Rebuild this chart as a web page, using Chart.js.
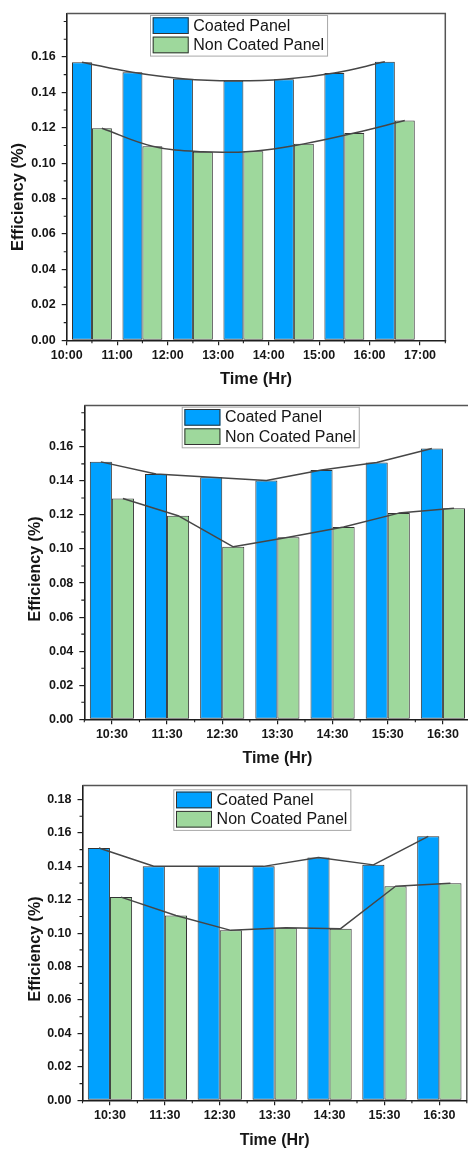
<!DOCTYPE html>
<html>
<head>
<meta charset="utf-8">
<script src="https://cdn.jsdelivr.net/npm/chart.js@4.4.1/dist/chart.umd.min.js"></script>
<style>
  html, body { margin: 0; padding: 0; background: #fff; overflow: hidden; width: 468px; height: 1149px; }
  .panel { position: absolute; left: 0; width: 472px; }
  canvas { display: block; }
</style>
</head>
<body>
<div class="panel" style="top:0px"><canvas id="c1" width="472" height="392"></canvas></div>
<div class="panel" style="top:392px"><canvas id="c2" width="472" height="380"></canvas></div>
<div class="panel" style="top:772px"><canvas id="c3" width="472" height="377"></canvas></div>
<script>
// Series names
const SERIES = ['Coated Panel', 'Non Coated Panel'];

// Panel A
const timesA = ['10:30', '11:30', '12:30', '13:30', '14:30', '15:30', '16:30'];
const coatedA = [0.1570, 0.1513, 0.1477, 0.1465, 0.1474, 0.1509, 0.1572];
const nonCoatedA = [0.1197, 0.1096, 0.1064, 0.1068, 0.1109, 0.1170, 0.1241];
const xTicksA = ['10:00', '11:00', '12:00', '13:00', '14:00', '15:00', '16:00', '17:00'];
const xRangeA = ['10:00', '17:30'];
const yTicksA = [0, 0.02, 0.04, 0.06, 0.08, 0.10, 0.12, 0.14, 0.16];
const yRangeA = [0, 0.1845];

// Panel B
const timesB = ['10:30', '11:30', '12:30', '13:30', '14:30', '15:30', '16:30'];
const coatedB = [0.1512, 0.1441, 0.1421, 0.1402, 0.1464, 0.1508, 0.1590];
const nonCoatedB = [0.1297, 0.1196, 0.1013, 0.1069, 0.1129, 0.1211, 0.1240];
const xTicksB = ['10:30', '11:30', '12:30', '13:30', '14:30', '15:30', '16:30'];
const xRangeB = ['10:00', '17:00'];
const yTicksB = [0, 0.02, 0.04, 0.06, 0.08, 0.10, 0.12, 0.14, 0.16];
const yRangeB = [0, 0.1843];

// Panel C
const timesC = ['10:30', '11:30', '12:30', '13:30', '14:30', '15:30', '16:30'];
const coatedC = [0.1510, 0.1401, 0.1401, 0.1400, 0.1453, 0.1409, 0.1580];
const nonCoatedC = [0.1216, 0.1106, 0.1017, 0.1033, 0.1027, 0.1281, 0.1299];
const xTicksC = ['10:30', '11:30', '12:30', '13:30', '14:30', '15:30', '16:30'];
const xRangeC = ['10:00', '17:00'];
const yTicksC = [0, 0.02, 0.04, 0.06, 0.08, 0.10, 0.12, 0.14, 0.16, 0.18];
const yRangeC = [0, 0.1884];

const FONT = "'Liberation Sans', Arial, Helvetica, sans-serif";
const BLUE = 'rgb(0,161,255)';
const GREEN = 'rgb(158,216,156)';
const EDGE = '#333333';
const AXIS = '#1e1e1e';
const FRAME = '#555555';
const TREND = '#464646';
const TEXT = '#161616';

const toHours = s => { const [h, m] = s.split(':').map(Number); return h + m / 60; };

// Control points for a smooth curve through the bar tops
function ctrl(pts, k, t) {
  const p0 = pts[k - 1] || pts[k], p1 = pts[k], p2 = pts[k + 1] || pts[k];
  const d01 = Math.hypot(p1.x - p0.x, p1.y - p0.y);
  const d12 = Math.hypot(p2.x - p1.x, p2.y - p1.y);
  const sum = d01 + d12 || 1;
  const fa = t * d01 / sum, fb = t * d12 / sum;
  return {
    prev: { x: p1.x - fa * (p2.x - p0.x), y: p1.y - fa * (p2.y - p0.y) },
    next: { x: p1.x + fb * (p2.x - p0.x), y: p1.y + fb * (p2.y - p0.y) }
  };
}

// Half-step positions between the labelled ticks
function minorValues(scale, majors) {
  const step = (majors[1] - majors[0]) / 2;
  const out = [];
  for (let v = scale.min; v <= scale.max + 1e-9; v += step) {
    if (!majors.some(m => Math.abs(m - v) < 1e-9)) out.push(v);
  }
  return out;
}

const panelDecor = {
  id: 'panelDecor',
  afterDatasetsDraw(chart, args, o) {
    const ctx = chart.ctx;
    ctx.save();
    ctx.strokeStyle = TREND;
    ctx.lineWidth = 1.5;
    ctx.lineJoin = 'round';
    chart.data.datasets.forEach((ds, i) => {
      const pts = chart.getDatasetMeta(i).data.map(b => ({ x: b.x, y: b.y }));
      ctx.beginPath();
      ctx.moveTo(pts[0].x, pts[0].y);
      for (let k = 1; k < pts.length; k++) {
        if (o.tension) {
          const c1 = ctrl(pts, k - 1, o.tension).next;
          const c2 = ctrl(pts, k, o.tension).prev;
          ctx.bezierCurveTo(c1.x, c1.y, c2.x, c2.y, pts[k].x, pts[k].y);
        } else {
          ctx.lineTo(pts[k].x, pts[k].y);
        }
      }
      ctx.stroke();
    });
    ctx.restore();
  },
  afterDraw(chart, args, o) {
    const ctx = chart.ctx;
    const ca = chart.chartArea;
    const xs = chart.scales.x, ys = chart.scales.y;
    ctx.save();

    // top and right frame
    ctx.strokeStyle = FRAME;
    ctx.lineWidth = 1.5;
    ctx.beginPath();
    ctx.moveTo(ca.left, ca.top);
    ctx.lineTo(ca.right, ca.top);
    ctx.lineTo(ca.right, ca.bottom);
    ctx.stroke();

    // minor ticks
    ctx.strokeStyle = AXIS;
    ctx.lineWidth = 1.1;
    ctx.beginPath();
    minorValues(xs, xs.ticks.map(t => t.value)).forEach(v => {
      const px = xs.getPixelForValue(v);
      ctx.moveTo(px, ca.bottom);
      ctx.lineTo(px, ca.bottom + 3);
    });
    minorValues(ys, ys.ticks.map(t => t.value)).forEach(v => {
      const py = ys.getPixelForValue(v);
      ctx.moveTo(ca.left - 3, py);
      ctx.lineTo(ca.left, py);
    });
    ctx.stroke();

    // legend
    const L = o.legend;
    ctx.font = `${L.size}px ${FONT}`;
    const tw = Math.max(...SERIES.map(s => ctx.measureText(s).width));
    const sw = 36, sh = 16.7, gap = 19.3;
    const boxW = 2.7 + sw + 4.6 + tw + 3;
    const boxH = 2.3 + gap + sh + 2.3;
    ctx.fillStyle = '#ffffff';
    ctx.fillRect(L.x, L.y, boxW, boxH);
    ctx.strokeStyle = '#a8a8a8';
    ctx.lineWidth = 1;
    ctx.strokeRect(L.x + 0.5, L.y + 0.5, boxW, boxH);
    [BLUE, GREEN].forEach((c, i) => {
      const sy = L.y + 2.3 + i * gap;
      ctx.fillStyle = c;
      ctx.fillRect(L.x + 2.7, sy, sw, sh);
      ctx.strokeStyle = EDGE;
      ctx.strokeRect(L.x + 2.7 + 0.5, sy + 0.5, sw - 1, sh - 1);
      ctx.fillStyle = TEXT;
      ctx.textAlign = 'left';
      ctx.textBaseline = 'middle';
      ctx.fillText(SERIES[i], L.x + 2.7 + sw + 4.6, sy + sh / 2 + 0.5);
    });

    // y axis title
    const T = o.yTitle;
    ctx.translate(T.x, T.y);
    ctx.rotate(-Math.PI / 2);
    ctx.font = `bold ${T.size}px ${FONT}`;
    ctx.fillStyle = TEXT;
    ctx.textAlign = 'center';
    ctx.textBaseline = 'middle';
    ctx.fillText('Efficiency (%)', 0, 0);
    ctx.restore();
  }
};

function buildPanel(id, d, g) {
  const mk = (vals, color) => ({
    data: d.times.map((t, i) => ({ x: toHours(t), y: vals[i] })),
    backgroundColor: color,
    borderColor: EDGE,
    borderWidth: 1,
    borderSkipped: false,
    categoryPercentage: g.cat,
    barPercentage: 1.0
  });
  return new Chart(document.getElementById(id), {
    type: 'bar',
    data: {
      datasets: [
        Object.assign({ label: SERIES[0] }, mk(d.coated, BLUE)),
        Object.assign({ label: SERIES[1] }, mk(d.nonCoated, GREEN))
      ]
    },
    options: {
      responsive: false,
      animation: false,
      devicePixelRatio: 1,
      layout: { padding: { top: g.top, right: g.right, left: 0, bottom: 0 } },
      plugins: {
        legend: { display: false },
        tooltip: { enabled: false },
        panelDecor: { tension: g.tension, legend: g.legend, yTitle: g.yTitle }
      },
      scales: {
        x: {
          type: 'linear',
          min: toHours(d.xRange[0]),
          max: toHours(d.xRange[1]),
          offset: false,
          grid: { offset: false, drawOnChartArea: false, drawTicks: true, tickLength: 5, color: AXIS, lineWidth: 1.2 },
          border: { display: true, color: AXIS, width: 1.6 },
          afterBuildTicks: s => { s.ticks = d.xTicks.map(t => ({ value: toHours(t) })); },
          ticks: {
            autoSkip: false, maxRotation: 0, padding: g.xPad,
            color: TEXT, font: { family: FONT, size: 12.5, weight: 'bold' },
            callback: (v, i) => d.xTicks[i]
          },
          title: {
            display: true, text: 'Time (Hr)', color: TEXT,
            font: { family: FONT, size: g.titleSize, weight: 'bold', lineHeight: 1 },
            padding: { top: 0, bottom: g.xTitlePad }
          },
          afterFit: s => { s.height = g.bottom; }
        },
        y: {
          type: 'linear',
          min: d.yRange[0],
          max: d.yRange[1],
          grid: { drawOnChartArea: false, drawTicks: true, tickLength: 5, color: AXIS, lineWidth: 1.2 },
          border: { display: true, color: AXIS, width: 1.6 },
          afterBuildTicks: s => { s.ticks = d.yTicks.map(v => ({ value: v })); },
          ticks: {
            autoSkip: false, padding: 6,
            color: TEXT, font: { family: FONT, size: 12.5, weight: 'bold' },
            callback: v => Number(v).toFixed(2)
          },
          title: { display: false },
          afterFit: s => { s.width = g.left; }
        }
      }
    },
    plugins: [panelDecor]
  });
}

buildPanel('c1',
  { times: timesA, coated: coatedA, nonCoated: nonCoatedA, xTicks: xTicksA, xRange: xRangeA, yTicks: yTicksA, yRange: yRangeA },
  { top: 10, right: 26.7, left: 66.7, bottom: 51.7, cat: 0.79, tension: 0.4, xPad: 2.5, titleSize: 16.5, xTitlePad: 4.75,
    legend: { x: 150, y: 15, size: 16 }, yTitle: { x: 18, y: 197, size: 16.5 } });

buildPanel('c2',
  { times: timesB, coated: coatedB, nonCoated: nonCoatedB, xTicks: xTicksB, xRange: xRangeB, yTicks: yTicksB, yRange: yRangeB },
  { top: 11.3, right: 1.5, left: 84.3, bottom: 52.7, cat: 0.8, tension: 0, xPad: 2.5, titleSize: 16, xTitlePad: 5.7,
    legend: { x: 181.7, y: 14.7, size: 16 }, yTitle: { x: 36, y: 177, size: 16 } });

buildPanel('c3',
  { times: timesC, coated: coatedC, nonCoated: nonCoatedC, xTicks: xTicksC, xRange: xRangeC, yTicks: yTicksC, yRange: yRangeC },
  { top: 13, right: 5.2, left: 82.5, bottom: 48.7, cat: 0.807, tension: 0, xPad: 3, titleSize: 16, xTitlePad: 0,
    legend: { x: 173.3, y: 17.3, size: 16 }, yTitle: { x: 36, y: 177, size: 16 } });
</script>
</body>
</html>
